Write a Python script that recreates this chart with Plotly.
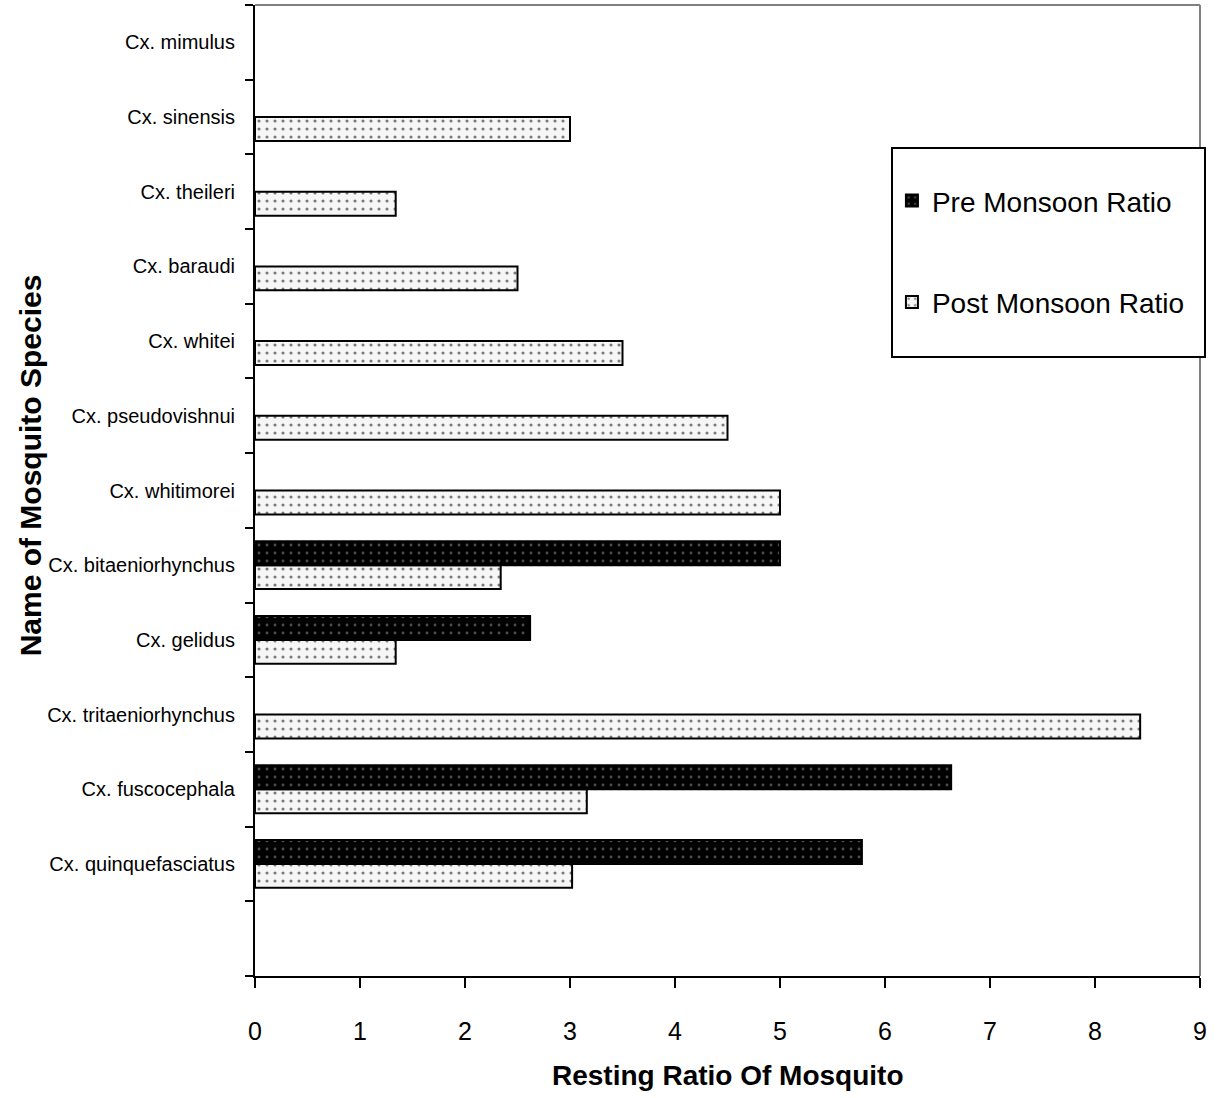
import plotly.graph_objects as go

species = [" ", "Cx. quinquefasciatus", "Cx. fuscocephala", "Cx. tritaeniorhynchus",
           "Cx. gelidus", "Cx. bitaeniorhynchus", "Cx. whitimorei", "Cx. pseudovishnui",
           "Cx. whitei", "Cx. baraudi", "Cx. theileri", "Cx. sinensis", "Cx. mimulus"]
pre_monsoon = [None, 5.78, 6.63, None, 2.62, 5.0, None, None, None, None, None, None, None]
post_monsoon = [None, 3.02, 3.16, 8.43, 1.34, 2.34, 5.0, 4.5, 3.5, 2.5, 1.34, 3.0, None]
x_ticks = [0, 1, 2, 3, 4, 5, 6, 7, 8, 9]

FONT = "Liberation Sans, Arial, sans-serif"

fig = go.Figure()
fig.add_trace(go.Bar(
    y=species, x=post_monsoon, orientation="h", name="Post Monsoon Ratio",
    legendgroup="b", legendrank=2,
    marker=dict(color="#f4f4f4", line=dict(color="black", width=2),
                pattern=dict(shape=".", bgcolor="#f6f6f6", fgcolor="black", size=8, solidity=0.12)),
))
fig.add_trace(go.Bar(
    y=species, x=pre_monsoon, orientation="h", name="Pre Monsoon Ratio",
    legendgroup="a", legendrank=1,
    marker=dict(color="black", line=dict(color="black", width=2),
                pattern=dict(shape=".", bgcolor="black", fgcolor="#9a9a9a", size=8, solidity=0.1)),
))

fig.update_layout(
    width=1228, height=1098,
    margin=dict(l=255, r=28, t=5, b=122),
    paper_bgcolor="white", plot_bgcolor="white",
    barmode="group", bargap=0.36, bargroupgap=0,
    font=dict(family=FONT, color="black"),
    showlegend=True,
    legend=dict(x=0.674, y=0.824, xanchor="left", yanchor="top",
                borderwidth=0, bgcolor="rgba(0,0,0,0)",
                font=dict(size=28, family=FONT), traceorder="grouped",
                tracegroupgap=62, itemwidth=30),
    xaxis=dict(range=[0, 9], tickvals=x_ticks, ticktext=[str(t) for t in x_ticks],
               showgrid=False, zeroline=False, showline=True, linecolor="black", linewidth=2,
               ticks="outside", ticklen=10, tickwidth=2, tickcolor="black",
               tickfont=dict(size=25, family=FONT), ticklabelstandoff=22),
    yaxis=dict(categoryorder="array", categoryarray=species,
               showgrid=False, zeroline=False, showline=True, linecolor="black", linewidth=2,
               ticks="outside", ticklen=8, tickwidth=2, tickcolor="black", tickson="boundaries",
               tickfont=dict(size=20, family=FONT), ticklabelstandoff=14),
    shapes=[
        dict(type="line", xref="paper", yref="paper", x0=0, x1=1, y0=1, y1=1,
             line=dict(color="#808080", width=2)),
        dict(type="line", xref="paper", yref="paper", x0=1, x1=1, y0=0, y1=1,
             line=dict(color="#808080", width=2)),
        dict(type="rect", xref="paper", yref="paper",
             x0=(892 - 255) / 945, x1=(1205 - 255) / 945,
             y0=(976 - 357) / 971, y1=(976 - 148) / 971,
             line=dict(color="black", width=2), fillcolor="white", layer="above"),
    ],
    annotations=[
        dict(text="<b>Resting Ratio Of Mosquito</b>", xref="paper", yref="paper",
             x=0.5, y=-0.102, xanchor="center", yanchor="middle", showarrow=False,
             font=dict(size=28, family=FONT)),
        dict(text="<b>Name of Mosquito Species</b>", xref="paper", yref="paper",
             x=-0.238, y=0.526, xanchor="center", yanchor="middle", showarrow=False,
             textangle=-90, font=dict(size=30, family=FONT)),
    ],
)

fig.write_html("out.html")
